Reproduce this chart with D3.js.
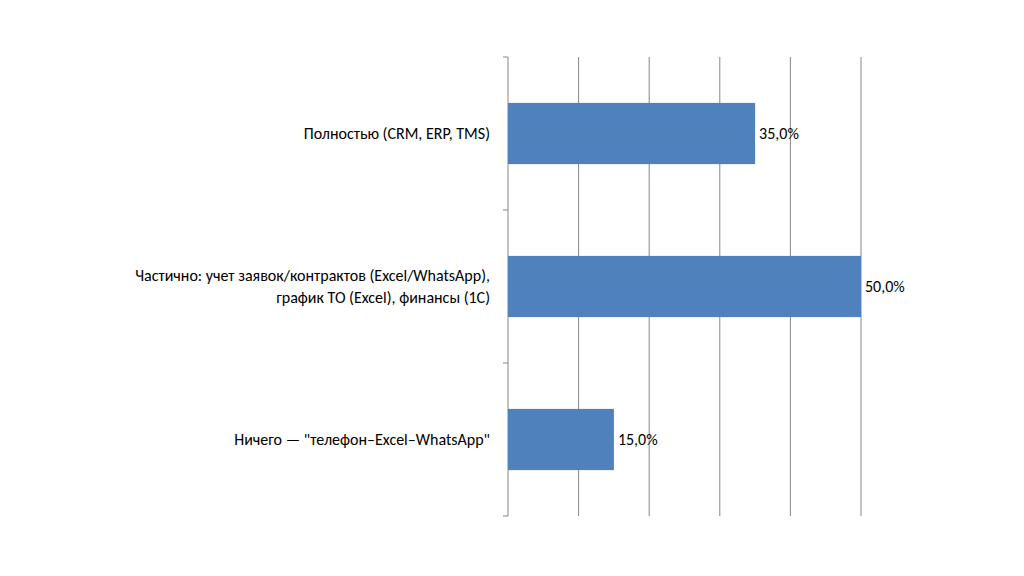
<!DOCTYPE html>
<html lang="ru">
<head>
<meta charset="UTF-8" />
<style>
  body { margin: 0; background: #fff; }
  svg { display: block; font-family: Calibri, Carlito, "Liberation Sans", sans-serif; }
</style>
</head>
<body>
<svg id="chart"></svg>
<script src="https://d3js.org/d3.v7.min.js"></script>
<script>
const categories = [
  ["Полностью (CRM, ERP, TMS)"],
  ["Частично: учет заявок/контрактов (Excel/WhatsApp),", "график ТО (Excel), финансы (1С)"],
  ["Ничего — \"телефон–Excel–WhatsApp\""]
];
const values = [35, 50, 15];
const xTicks = [0, 10, 20, 30, 40, 50];

const width = 1024, height = 576;
const plotLeft = 508, plotRight = 861, plotTop = 57, plotBottom = 516;

const svg = d3.select("#chart").attr("width", width).attr("height", height);

const x = d3.scaleLinear().domain([0, 50]).range([plotLeft, plotRight]);
const y = d3.scaleBand().domain(d3.range(categories.length)).range([plotTop, plotBottom]).paddingInner(0.6).paddingOuter(0.3);

svg.selectAll("line.grid").data(xTicks.slice(1)).join("line")
  .attr("x1", d => x(d)).attr("x2", d => x(d))
  .attr("y1", plotTop).attr("y2", plotBottom)
  .attr("stroke", "#868686").attr("stroke-width", 1);

// vertical category axis
svg.append("line").attr("x1", plotLeft).attr("x2", plotLeft).attr("y1", plotTop).attr("y2", plotBottom)
  .attr("stroke", "#868686");
const step = (plotBottom - plotTop) / categories.length;
svg.selectAll("line.tick").data(d3.range(categories.length + 1)).join("line")
  .attr("x1", plotLeft - 5).attr("x2", plotLeft)
  .attr("y1", d => plotTop + d * step).attr("y2", d => plotTop + d * step)
  .attr("stroke", "#868686");

svg.selectAll("rect.bar").data(values).join("rect")
  .attr("x", plotLeft).attr("y", (d, i) => y(i))
  .attr("width", d => x(d) - plotLeft).attr("height", y.bandwidth())
  .attr("fill", "#4F81BD");

svg.selectAll("text.val").data(values).join("text")
  .attr("x", d => x(d) + 4).attr("y", (d, i) => y(i) + y.bandwidth() / 2)
  .attr("dy", "0.35em").attr("font-size", 16).attr("fill", "#000")
  .text(d => d.toFixed(1).replace(".", ",") + "%");

categories.forEach((lines, i) => {
  const cy = y(i) + y.bandwidth() / 2;
  const t = svg.append("text").attr("text-anchor", "end").attr("font-size", 16).attr("fill", "#000");
  lines.forEach((l, j) => {
    t.append("tspan").attr("x", plotLeft - 18)
      .attr("y", cy + (j - (lines.length - 1) / 2) * 22)
      .attr("dy", "0.35em").text(l);
  });
});
</script>
</body>
</html>
